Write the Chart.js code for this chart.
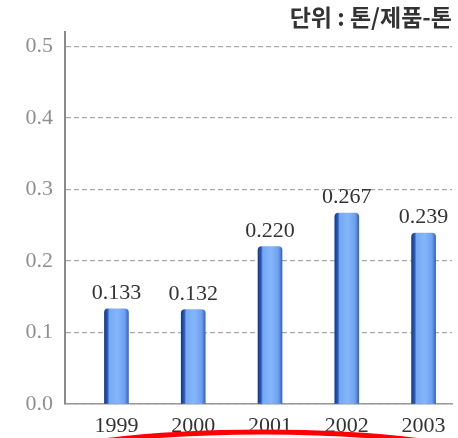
<!DOCTYPE html>
<html>
<head>
<meta charset="utf-8">
<script src="https://cdn.jsdelivr.net/npm/chart.js@4"></script>
<style>
  html, body { margin: 0; padding: 0; background: #fff; }
  #wrap { width: 458px; height: 438px; }
</style>
</head>
<body>
<div id="wrap"><canvas id="c" width="458" height="438"></canvas></div>
<script>
const years = ["1999", "2000", "2001", "2002", "2003"];
const values = [0.133, 0.132, 0.220, 0.267, 0.239];
const yTicks = [0, 0.1, 0.2, 0.3, 0.4, 0.5];
const unitText = "단위 : 톤/제품-톤";

const serif = "'Liberation Serif', 'DejaVu Serif', serif";

function barFill(c) {
  if (c.type !== "data") return "#7aaef5";
  const chart = c.chart;
  const x = chart.scales.x ? chart.scales.x.getPixelForValue(c.dataIndex) : NaN;
  if (!isFinite(x)) return "#7aaef5";
  const g = chart.ctx.createLinearGradient(x - 12, 0, x + 12, 0);
  g.addColorStop(0, "#163a86");
  g.addColorStop(0.13, "#2a5cb8");
  g.addColorStop(0.2, "#76a9f3");
  g.addColorStop(0.55, "#84b6fb");
  g.addColorStop(0.85, "#6e9fec");
  g.addColorStop(1, "#3565bf");
  return g;
}

const valueLabels = {
  id: "valueLabels",
  afterDatasetsDraw(chart) {
    const ctx = chart.ctx;
    const meta = chart.getDatasetMeta(0);
    ctx.save();
    ctx.font = "22px " + serif;
    ctx.fillStyle = "#333";
    ctx.textAlign = "center";
    ctx.textBaseline = "alphabetic";
    meta.data.forEach((el, i) => {
      ctx.fillText(values[i].toFixed(3), el.x, el.y - 10);
    });
    ctx.restore();
  }
};

// red marker stroke along the bottom edge of the picture
const redMark = {
  id: "redMark",
  afterDraw(chart) {
    const ctx = chart.ctx;
    ctx.save();
    ctx.strokeStyle = "#ff0000";
    ctx.lineWidth = 5;
    ctx.beginPath();
    ctx.ellipse(chart.width * 0.573, chart.height + 54, 300, 60, 0, Math.PI, 2 * Math.PI);
    ctx.stroke();
    ctx.restore();
  }
};

const chart = new Chart(document.getElementById("c"), {
  type: "bar",
  data: {
    datasets: [{
      data: years.map((y, i) => ({ x: i, y: values[i] })),
      backgroundColor: barFill,
      borderWidth: 0,
      borderRadius: { topLeft: 4, topRight: 4 },
      borderSkipped: "bottom",
      barThickness: 24
    }]
  },
  options: {
    animation: false,
    responsive: false,
    layout: { padding: { left: 0, right: 6, top: 0, bottom: 0 } },
    plugins: {
      legend: { display: false },
      tooltip: { enabled: false },
      title: {
        display: true,
        text: unitText,
        align: "end",
        color: "#333",
        font: { family: "'Noto Sans CJK KR', sans-serif", size: 23, weight: "bold", lineHeight: 1.2 },
        padding: { top: 3, bottom: 1.4 }
      }
    },
    scales: {
      x: {
        type: "linear",
        offset: false,
        min: -0.67,
        max: 4.37,
        afterBuildTicks: s => { s.ticks = years.map((_, i) => ({ value: i })); },
        afterFit: s => { s.height = 34; },
        grid: { display: false, drawTicks: false, offset: false },
        border: { display: true, color: "#9a9a9a", width: 1.5 },
        ticks: {
          padding: 9,
          color: "#333",
          font: { family: serif, size: 22 },
          callback: v => years[v] ?? ""
        }
      },
      y: {
        min: 0,
        max: 0.52,
        afterBuildTicks: s => { s.ticks = yTicks.map(v => ({ value: v })); },
        afterFit: s => { s.width = 65; },
        grid: {
          color: "#aaaaaa",
          lineWidth: 1.3,
          drawTicks: false
        },
        border: { display: true, color: "#8a8a8a", width: 2, dash: [5, 3] },
        ticks: {
          padding: 12,
          color: "#8f8f8f",
          font: { family: serif, size: 22 },
          callback: v => v.toFixed(1)
        }
      }
    }
  },
  plugins: [valueLabels, redMark]
});
chart.update();
</script>
</body>
</html>
